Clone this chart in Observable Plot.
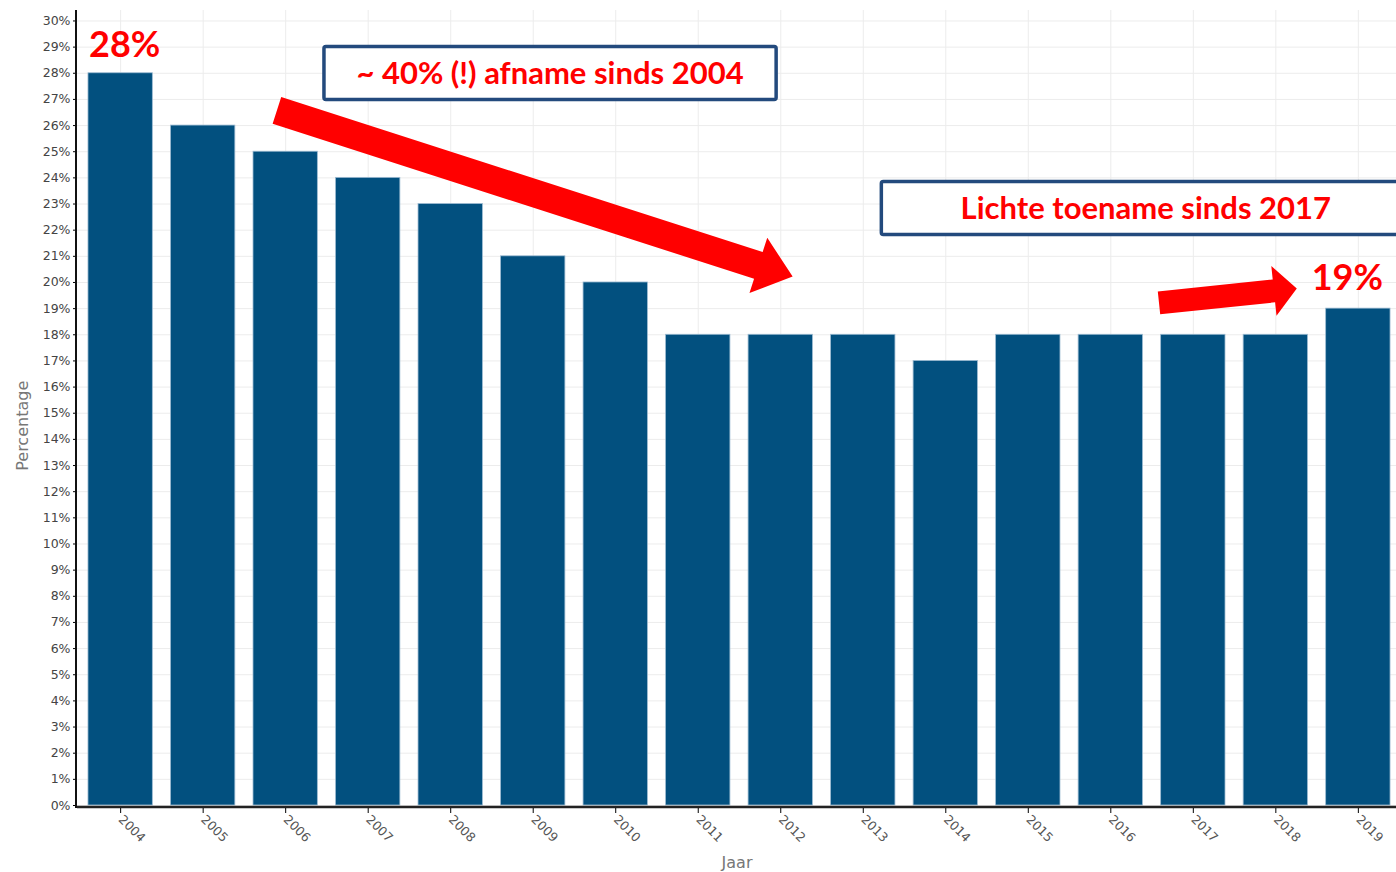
<!DOCTYPE html>
<html>
<head>
<meta charset="utf-8">
<script src="https://cdn.jsdelivr.net/npm/d3@7"></script>
<script src="https://cdn.jsdelivr.net/npm/@observablehq/plot@0.6"></script>
<style>
  html, body { margin: 0; padding: 0; background: #fff; }
  #chart svg { display: block; font-family: "DejaVu Sans", Verdana, sans-serif; }
  #chart g[aria-label="y-axis tick label"] text { fill: #444; }
  #chart g[aria-label="x-axis tick label"] text { fill: #555; }
</style>
</head>
<body>
<div id="chart"></div>
<script>
// ---- data ----
const years = ["2004","2005","2006","2007","2008","2009","2010","2011","2012","2013","2014","2015","2016","2017","2018","2019"];
const values = [28, 26, 25, 24, 23, 21, 20, 18, 18, 18, 17, 18, 18, 18, 18, 19];
const yTicks = d3.range(0, 31, 1);
const yTickSuffix = "%";
const xLabel = "Jaar";
const yLabel = "Percentage";

// callout labels
const calloutYears = ["2004", "2019"];
const calloutY = [29.05, 20.15];
const calloutDx = [4, -11];
const calloutText = ["28%", "19%"];

// boxed notes: anchor year, offset in band steps, width in steps, top/bottom in %
const noteText = ["~ 40% (!) afname sinds 2004", "Lichte toename sinds 2017"];
const noteYear = ["2009", "2016"];
const noteOffset = [0.21, 0.43];
const noteWidth = [5.48, 6.41];
const noteTop = [29.0, 23.84];
const noteBottom = [26.98, 21.82];
const noteTextX = [0.21, 0.43];

// arrows: tail (year, offset, %) -> tip (year, offset, %)
const arrowTailYear = ["2006", "2017"];
const arrowTailOff = [-0.1, -0.41];
const arrowTailY = [26.56, 19.2];
const arrowTipYear = ["2012", "2018"];
const arrowTipOff = [0.15, 0.26];
const arrowTipY = [20.21, 19.75];
const arrowShaft = [28, 23];
const arrowHeadW = [58, 50];
const arrowHeadL = [36, 23];

const data = years.map((y, i) => ({year: y, value: values[i]}));

const W = 1396, H = 872;
const mL = 77, mR = 0, mT = 10, mB = 67;

const plot = Plot.plot({
  width: W,
  height: H,
  marginLeft: mL,
  marginRight: mR,
  marginTop: mT,
  marginBottom: mB,
  x: {domain: years, range: [mL, 1401], round: false, paddingInner: 0.22, paddingOuter: 0.133, label: null},
  y: {domain: [0, 30.4], label: null},
  marks: [
    Plot.gridY(yTicks, {stroke: "#ececec", strokeOpacity: 1}),
    Plot.gridX({stroke: "#ececec", strokeOpacity: 1}),
    Plot.barY(data, {x: "year", y: "value", fill: "#02507f", stroke: "#9dbbd2", strokeWidth: 0.8}),
    Plot.ruleY([0], {stroke: "#222", strokeWidth: 2.5, dy: 1.5}),
    Plot.axisY({ticks: yTicks, tickFormat: d => d + yTickSuffix, tickSize: 4, tickPadding: 3, fontSize: 12.5, label: null}),
    Plot.axisX({tickSize: 5, tickPadding: 4, tickRotate: 45, fontSize: 12.5, label: null, dy: 3}),
    Plot.text([yLabel], {frameAnchor: "left", y: 14.52, dx: -55, rotate: -90, textAnchor: "middle", fontSize: 16, fill: "#777"}),
    Plot.text([xLabel], {frameAnchor: "bottom", dy: 57, lineAnchor: "middle", fontSize: 16, fill: "#777"}),
    Plot.text([calloutText[0]], {x: () => calloutYears[0], y: () => calloutY[0], dx: calloutDx[0], fontSize: 36, fontWeight: "bold", fill: "#ff0000", fontFamily: "Lato"}),
    Plot.text([calloutText[1]], {x: () => calloutYears[1], y: () => calloutY[1], dx: calloutDx[1], fontSize: 36, fontWeight: "bold", fill: "#ff0000", fontFamily: "Lato"})
  ]
});

document.getElementById("chart").appendChild(plot);

// overlay: axis line, arrows, boxed notes, positioned via Plot's scales
const xs = plot.scale("x"), ys = plot.scale("y");
const bw = xs.bandwidth, step = xs.step;
const px = (yr, off) => xs.apply(yr) + bw / 2 + off * step;
const py = v => ys.apply(v);
const svg = d3.select(plot);

// y axis line
svg.append("line")
  .attr("x1", mL - 1).attr("x2", mL - 1)
  .attr("y1", mT).attr("y2", py(0) + 3)
  .attr("stroke", "#111").attr("stroke-width", 2);

// arrows
const ag = svg.append("g");
arrowTailYear.forEach((_, i) => {
  const tx = px(arrowTailYear[i], arrowTailOff[i]), ty = py(arrowTailY[i]);
  const hx = px(arrowTipYear[i], arrowTipOff[i]), hy = py(arrowTipY[i]);
  const len = Math.hypot(hx - tx, hy - ty);
  const ux = (hx - tx) / len, uy = (hy - ty) / len;
  const nx = -uy, ny = ux;
  const bx = hx - ux * arrowHeadL[i], by = hy - uy * arrowHeadL[i];
  const w = arrowShaft[i] / 2, hw = arrowHeadW[i] / 2;
  const pts = [
    [tx + nx * w, ty + ny * w], [bx + nx * w, by + ny * w], [bx + nx * hw, by + ny * hw],
    [hx, hy],
    [bx - nx * hw, by - ny * hw], [bx - nx * w, by - ny * w], [tx - nx * w, ty - ny * w]
  ];
  ag.append("polygon").attr("points", pts.map(p => p.join(",")).join(" ")).attr("fill", "#ff0000");
});

// boxed notes
const ng = svg.append("g");
noteText.forEach((t, i) => {
  const cx = px(noteYear[i], noteOffset[i]);
  const wpx = noteWidth[i] * step;
  const y1 = py(noteTop[i]), y2 = py(noteBottom[i]);
  ng.append("rect")
    .attr("x", cx - wpx / 2).attr("y", y1).attr("width", wpx).attr("height", y2 - y1)
    .attr("rx", 2).attr("fill", "#fff").attr("stroke", "#234a7d").attr("stroke-width", 3.5);
  ng.append("text")
    .attr("x", px(noteYear[i], noteTextX[i])).attr("y", (y1 + y2) / 2)
    .attr("dy", "0.36em").attr("text-anchor", "middle")
    .attr("font-family", "Lato").attr("font-weight", "bold").attr("font-size", 31)
    .attr("fill", "#ff0000").text(t);
});
</script>
</body>
</html>
